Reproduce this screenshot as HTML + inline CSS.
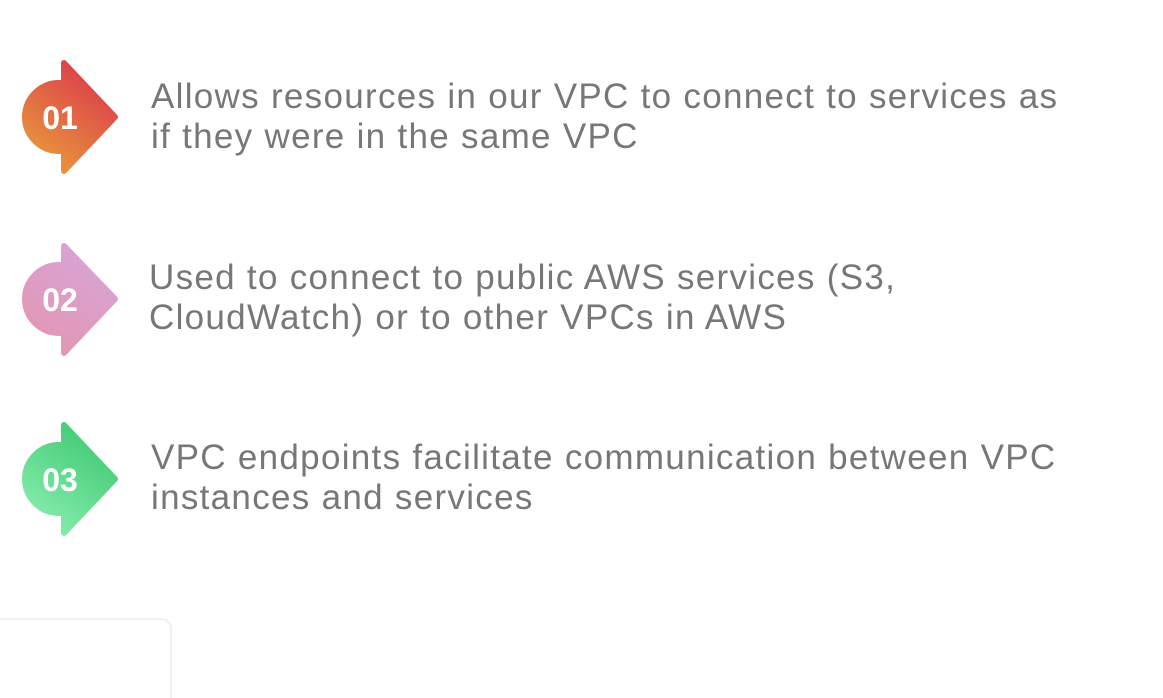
<!DOCTYPE html>
<html><head><style>
body{margin:0;width:1163px;height:698px;background:#fff;overflow:hidden;position:relative;font-family:"Liberation Sans",sans-serif;}
.t{position:absolute;left:151px;font-size:35px;line-height:40px;color:#777;letter-spacing:1.3px;}
svg{position:absolute;left:0;top:0}
</style></head><body>
<svg width="1163" height="698">
<defs>
<linearGradient id="g1" gradientUnits="userSpaceOnUse" x1="110" y1="62" x2="30" y2="172"><stop offset="0" stop-color="#d8304e"/><stop offset="1" stop-color="#eba23a"/></linearGradient>
<linearGradient id="g2" gradientUnits="userSpaceOnUse" x1="110" y1="244" x2="30" y2="354"><stop offset="0" stop-color="#d6a6dc"/><stop offset="1" stop-color="#e495ae"/></linearGradient>
<linearGradient id="g3" gradientUnits="userSpaceOnUse" x1="110" y1="424" x2="30" y2="534"><stop offset="0" stop-color="#38c46c"/><stop offset="1" stop-color="#8ef2b4"/></linearGradient>
</defs>
<g fill="url(#g1)" stroke="url(#g1)" stroke-linejoin="round" stroke-width="6">
<circle cx="59" cy="117" r="34"/><path d="M64 63 L115 117 L64 171 Z"/></g>
<text x="60" y="129" text-anchor="middle" font-family="Liberation Sans" font-weight="bold" font-size="32" fill="#fff">01</text>
<g fill="url(#g2)" stroke="url(#g2)" stroke-linejoin="round" stroke-width="6">
<circle cx="59" cy="299" r="34"/><path d="M64 246 L115 299 L64 353 Z"/></g>
<text x="60" y="311" text-anchor="middle" font-family="Liberation Sans" font-weight="bold" font-size="32" fill="#fff">02</text>
<g fill="url(#g3)" stroke="url(#g3)" stroke-linejoin="round" stroke-width="6">
<circle cx="59" cy="479" r="34"/><path d="M64 425 L115 479 L64 533 Z"/></g>
<text x="60" y="491" text-anchor="middle" font-family="Liberation Sans" font-weight="bold" font-size="32" fill="#fff">03</text>
<rect x="-20" y="619" width="191" height="100" rx="10" fill="none" stroke="#f0f0f0" stroke-width="2"/>
</svg>
<div class="t" style="top:77px">Allows resources in our VPC to connect to services as<br>if they were in the same VPC</div>
<div class="t" style="top:258px;left:149px">Used to connect to public AWS services (S3,<br>CloudWatch) or to other VPCs in AWS</div>
<div class="t" style="top:438px">VPC endpoints facilitate communication between VPC<br>instances and services</div>
</body></html>
